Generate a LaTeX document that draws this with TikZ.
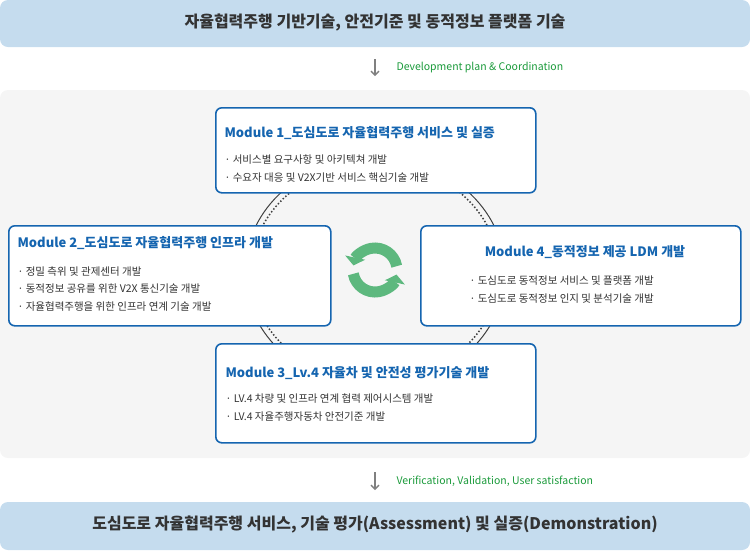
\documentclass[tikz,border=0pt]{standalone}
\usepackage{fontspec}
\setmainfont{Noto Sans CJK KR}
\usetikzlibrary{arrows.meta}
\definecolor{bnr}{HTML}{C5DCEE}
\definecolor{mblue}{HTML}{1565B0}
\definecolor{txt}{HTML}{333333}
\definecolor{grn}{HTML}{1A9A3A}
\definecolor{cyc}{HTML}{5DB87E}
\tikzset{
 mod/.style={draw=mblue,line width=1.6pt,fill=white,rounded corners=6pt},
 ttl/.style={text=mblue,font=\fontsize{13}{15}\selectfont\bfseries,anchor=west},
 bul/.style={text=txt,font=\fontsize{10.5}{12}\selectfont,anchor=west},
 note/.style={text=grn,font=\fontsize{10.5}{12}\selectfont,anchor=west},
 bigt/.style={text=txt,font=\fontsize{16}{19}\selectfont\bfseries},
}
\begin{document}
\begin{tikzpicture}[x=1pt,y=-1pt]
\useasboundingbox (0,0) rectangle (750,550);
\fill[bnr,rounded corners=8pt] (0,0) rectangle (750,47);
\node[bigt] (top) at (375,23) {자율협력주행 기반기술, 안전기준 및 동적정보 플랫폼 기술};
\coordinate (a1) at (375,59); \coordinate (a2) at (375,76);
\draw[gray,line width=1.3pt,-{Straight Barb[length=4pt,width=8pt]}] (a1) -- (a2);
\node[note] (n1) at (393,68) {Development plan \& Coordination};
\fill[black!4,rounded corners=8pt] (0,90) rectangle (750,458);
\draw[black!75,line width=1pt] (375,272) ellipse [x radius=130,y radius=115];
\draw[black!75,line width=1.5pt,dotted] (375,272) ellipse [x radius=124,y radius=109];
\node[mod,minimum width=320,minimum height=85,anchor=north west] (m1) at (215,107) {};
\node[ttl] (t1) at (221,133) {Module 1\_도심도로 자율협력주행 서비스 및 실증};
\node[bul] (b11) at (221,160) {· 서비스별 요구사항 및 아키텍쳐 개발};
\node[bul] (b12) at (221,178) {· 수요자 대응 및 V2X기반 서비스 핵심기술 개발};
\node[mod,minimum width=322,minimum height=100,anchor=north west] (m2) at (8,225) {};
\node[ttl] (t2) at (14,243) {Module 2\_도심도로 자율협력주행 인프라 개발};
\node[bul] (b21) at (14,272) {· 정밀 측위 및 관제센터 개발};
\node[bul] (b22) at (14,289) {· 동적정보 공유를 위한 V2X 통신기술 개발};
\node[bul] (b23) at (14,307) {· 자율협력주행을 위한 인프라 연계 기술 개발};
\node[mod,minimum width=320,minimum height=100,anchor=north west] (m4) at (420,225) {};
\node[ttl,anchor=center] (t4) at (585,252) {Module 4\_동적정보 제공 LDM 개발};
\node[bul] (b41) at (466,281) {· 도심도로 동적정보 서비스 및 플랫폼 개발};
\node[bul] (b42) at (466,299) {· 도심도로 동적정보 인지 및 분석기술 개발};
\node[mod,minimum width=320,minimum height=99,anchor=north west] (m3) at (215,343) {};
\node[ttl] (t3) at (222,373) {Module 3\_Lv.4 자율차 및 안전성 평가기술 개발};
\node[bul] (b31) at (222,399) {· LV.4 차량 및 인프라 연계 협력 제어시스템 개발};
\node[bul] (b32) at (222,417) {· LV.4 자율주행자동차 안전기준 개발};
\coordinate (c) at (375,270);
\draw[cyc,line width=11pt,-{Triangle[length=8pt,width=20pt]}] ([shift={(170:22)}]c) arc[start angle=170,end angle=12,radius=22];
\draw[cyc,line width=11pt,-{Triangle[length=8pt,width=20pt]}] ([shift={(350:22)}]c) arc[start angle=350,end angle=192,radius=22];
\coordinate (d1) at (375,472); \coordinate (d2) at (375,490);
\draw[gray,line width=1.3pt,-{Straight Barb[length=4pt,width=8pt]}] (d1) -- (d2);
\node[note] (n2) at (393,481) {Verification, Validation, User satisfaction};
\fill[bnr,rounded corners=8pt] (0,502) rectangle (750,550);
\node[bigt] (bot) at (375,524) {도심도로 자율협력주행 서비스, 기술 평가(Assessment) 및 실증(Demonstration)};
\end{tikzpicture}
\end{document}
